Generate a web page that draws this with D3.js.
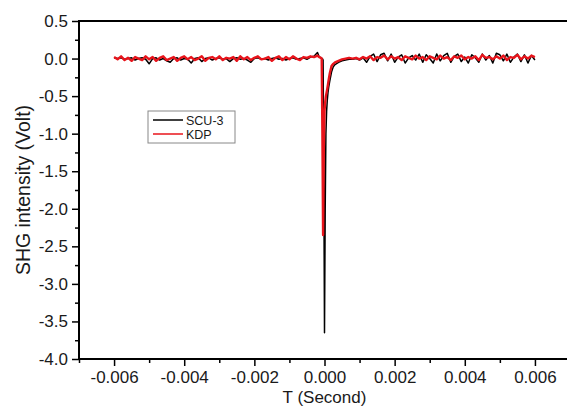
<!DOCTYPE html>
<html>
<head>
<meta charset="utf-8">
<script src="https://cdn.jsdelivr.net/npm/d3@7"></script>
<style>
  body { margin: 0; background: #fff; }
  svg { display: block; font-family: "Liberation Sans", Arial, sans-serif; }
</style>
</head>
<body>
<svg width="567" height="407"></svg>
<script>
// time samples (s): coarse baseline, dense around the pulse, coarse baseline
const timesLeft = [
  -0.0060, -0.0059, -0.0058, -0.0057, -0.0056, -0.0055, -0.0054, -0.0053, -0.0052, -0.0051,
  -0.0050, -0.0049, -0.0048, -0.0047, -0.0046, -0.0045, -0.0044, -0.0043, -0.0042, -0.0041,
  -0.0040, -0.0039, -0.0038, -0.0037, -0.0036, -0.0035, -0.0034, -0.0033, -0.0032, -0.0031,
  -0.0030, -0.0029, -0.0028, -0.0027, -0.0026, -0.0025, -0.0024, -0.0023, -0.0022, -0.0021,
  -0.0020, -0.0019, -0.0018, -0.0017, -0.0016, -0.0015, -0.0014, -0.0013, -0.0012, -0.0011,
  -0.0010, -0.0009, -0.0008, -0.0007, -0.0006, -0.0005, -0.0004, -0.0003, -0.0002
];
const timesPulse = [
  -0.00015, -0.0001, -0.00008, -0.00006, -0.00004, -0.00002, 0, 0.00002, 0.00004, 0.00006,
  0.00008, 0.0001, 0.00012, 0.00015, 0.0002, 0.00025, 0.0003, 0.0004, 0.0005, 0.0006, 0.0007
];
const timesRight = [
  0.0008, 0.0009, 0.0010, 0.0011, 0.0012, 0.0013, 0.0014, 0.0015, 0.0016, 0.0017,
  0.0018, 0.0019, 0.0020, 0.0021, 0.0022, 0.0023, 0.0024, 0.0025, 0.0026, 0.0027,
  0.0028, 0.0029, 0.0030, 0.0031, 0.0032, 0.0033, 0.0034, 0.0035, 0.0036, 0.0037,
  0.0038, 0.0039, 0.0040, 0.0041, 0.0042, 0.0043, 0.0044, 0.0045, 0.0046, 0.0047,
  0.0048, 0.0049, 0.0050, 0.0051, 0.0052, 0.0053, 0.0054, 0.0055, 0.0056, 0.0057,
  0.0058, 0.0059, 0.0060
];
const times = timesLeft.concat(timesPulse, timesRight);

// SHG signal (V)
const scu3 = [
  0.01, 0.00, 0.01, -0.01, 0.00, 0.01, -0.02, 0.00, 0.01, -0.01,
  -0.07, 0.00, 0.01, -0.02, 0.00, -0.03, -0.05, 0.00, 0.01, -0.02,
  0.00, -0.01, -0.06, 0.00, 0.01, -0.04, 0.00, 0.01, -0.02, 0.00,
  0.01, -0.01, 0.00, -0.04, 0.00, 0.01, -0.01, 0.00, -0.02, -0.05,
  0.00, 0.01, -0.01, 0.00, -0.02, 0.00, 0.01, -0.01, 0.00, -0.02,
  0.00, 0.01, -0.01, 0.00, 0.01, -0.01, 0.02, 0.03, 0.08,
  // pulse
  0.02, 0.01, 0.00, 0.00, -0.02, -1.5, -3.65, -2.0, -1.0, -0.7,
  -0.55, -0.45, -0.38, -0.3, -0.18, -0.11, -0.08, -0.05, -0.03, -0.02, -0.01,
  // after
  -0.01, 0.00, -0.02, 0.01, -0.05, 0.03, 0.06, -0.04, 0.05, 0.07,
  -0.03, 0.06, -0.05, 0.02, 0.05, -0.06, 0.01, 0.04, -0.02, 0.06,
  -0.05, 0.05, 0.00, -0.06, 0.06, -0.03, 0.04, 0.07, -0.05, 0.03,
  0.06, -0.04, 0.02, -0.06, 0.05, 0.01, -0.05, 0.06, -0.02, 0.04,
  -0.06, 0.07, 0.05, -0.03, 0.06, -0.05, 0.02, 0.06, -0.04, 0.05,
  -0.06, 0.04, -0.02
];
const kdp = [
  0.02, -0.01, 0.03, -0.02, 0.01, -0.03, 0.02, 0.00, -0.02, 0.03,
  -0.01, 0.02, -0.03, 0.01, 0.03, -0.02, 0.00, 0.02, -0.03, 0.01,
  0.03, -0.01, 0.02, -0.02, 0.00, 0.03, -0.03, 0.01, 0.02, -0.01,
  0.03, -0.02, 0.01, 0.00, 0.02, -0.03, 0.03, -0.01, 0.02, -0.02,
  0.01, 0.03, -0.01, 0.00, 0.02, -0.03, 0.01, 0.03, -0.02, 0.02,
  -0.01, 0.03, 0.00, -0.02, 0.02, 0.01, 0.03, 0.02, 0.04,
  // pulse
  0.02, 0.01, 0.00, -1.0, -2.35, -1.2, -0.7, -0.58, -0.5, -0.45,
  -0.4, -0.34, -0.28, -0.2, -0.1, -0.07, -0.05, -0.03, -0.01, 0.00, 0.01,
  // after
  0.00, 0.01, -0.01, 0.02, 0.00, 0.03, -0.02, 0.02, 0.01, 0.04,
  -0.01, 0.03, 0.00, 0.02, -0.02, 0.03, 0.01, -0.01, 0.04, 0.00,
  0.02, -0.02, 0.03, 0.01, -0.01, 0.04, 0.00, 0.02, -0.02, 0.03,
  0.01, 0.04, -0.01, 0.02, 0.00, 0.03, -0.02, 0.05, 0.01, 0.02,
  -0.01, 0.03, 0.00, 0.04, -0.02, 0.02, 0.01, 0.05, -0.01, 0.03,
  0.00, 0.04, 0.02
];

const xTicks = [-0.006, -0.004, -0.002, 0, 0.002, 0.004, 0.006];
const xMinor = [-0.007, -0.005, -0.003, -0.001, 0.001, 0.003, 0.005, 0.007];
const yTicks = [0.5, 0.0, -0.5, -1.0, -1.5, -2.0, -2.5, -3.0, -3.5, -4.0];
const yMinor = [0.25, -0.25, -0.75, -1.25, -1.75, -2.25, -2.75, -3.25, -3.75];

const series = [
  { name: "SCU-3", values: scu3, color: "#000000", width: 1.5 },
  { name: "KDP", values: kdp, color: "#e8141b", width: 2.4 }
];

const svg = d3.select("svg");
const plotLeft = 79, plotRight = 570, plotTop = 21, plotBottom = 359;

const x = d3.scaleLinear().domain([-0.007, 0.007]).range([plotLeft, plotRight]);
const y = d3.scaleLinear().domain([-4.0, 0.5]).range([plotBottom, plotTop]);

// plain hyphen instead of unicode minus, like the original
const fmt = (f) => (d) => d3.format(f)(d).replace("\u2212", "-");

// traces
const line = d3.line()
  .x((d) => x(d[0]))
  .y((d) => y(d[1]));

svg.append("g")
  .selectAll("path")
  .data(series)
  .enter()
  .append("path")
  .attr("d", (s) => line(times.map((t, i) => [t, s.values[i]])))
  .attr("fill", "none")
  .attr("stroke", (s) => s.color)
  .attr("stroke-width", (s) => s.width)
  .attr("stroke-linejoin", "round");

// axes
const xAxis = svg.append("g")
  .attr("transform", `translate(0,${plotBottom})`)
  .call(d3.axisBottom(x).tickValues(xTicks).tickSize(7).tickPadding(5)
    .tickFormat(fmt(".3f")));
const xAxisMinor = svg.append("g")
  .attr("transform", `translate(0,${plotBottom})`)
  .call(d3.axisBottom(x).tickValues(xMinor).tickSize(4).tickFormat(""));

const yAxis = svg.append("g")
  .attr("transform", `translate(${plotLeft},0)`)
  .call(d3.axisLeft(y).tickValues(yTicks).tickSize(7).tickPadding(4)
    .tickFormat(fmt(".1f")));
const yAxisMinor = svg.append("g")
  .attr("transform", `translate(${plotLeft},0)`)
  .call(d3.axisLeft(y).tickValues(yMinor).tickSize(4).tickFormat(""));

[xAxis, xAxisMinor, yAxis, yAxisMinor].forEach((g) => {
  g.select(".domain").remove();
  g.selectAll("line").attr("stroke", "#000").attr("stroke-width", 1.5);
  g.selectAll("text").attr("fill", "#1a1a1a").style("font-size", "17px");
});

// frame
svg.append("g")
  .selectAll("line")
  .data([
    [plotLeft, plotTop, plotRight, plotTop],
    [plotLeft, plotBottom, plotRight, plotBottom],
    [plotLeft, plotTop, plotLeft, plotBottom],
    [plotRight, plotTop, plotRight, plotBottom]
  ])
  .enter()
  .append("line")
  .attr("x1", (d) => d[0])
  .attr("y1", (d) => d[1])
  .attr("x2", (d) => d[2])
  .attr("y2", (d) => d[3])
  .attr("stroke", "#000")
  .attr("stroke-width", 2)
  .attr("stroke-linecap", "square");

// axis titles
svg.append("text")
  .attr("x", x(0))
  .attr("y", 403)
  .attr("text-anchor", "middle")
  .attr("fill", "#1a1a1a")
  .style("font-size", "17px")
  .text("T (Second)");

svg.append("text")
  .attr("transform", `translate(30,${(plotTop + plotBottom) / 2}) rotate(-90)`)
  .attr("text-anchor", "middle")
  .attr("fill", "#1a1a1a")
  .style("font-size", "19.5px")
  .text("SHG intensity (Volt)");

// legend
const legend = svg.append("g").attr("transform", "translate(148,111)");
legend.append("rect")
  .attr("width", 87)
  .attr("height", 32)
  .attr("fill", "#fff")
  .attr("stroke", "#888")
  .attr("stroke-width", 1);

const item = legend.selectAll("g.item")
  .data(series)
  .enter()
  .append("g")
  .attr("class", "item")
  .attr("transform", (d, i) => `translate(0,${9 + i * 14})`);

item.append("line")
  .attr("x1", 5)
  .attr("x2", 35)
  .attr("stroke", (d) => d.color)
  .attr("stroke-width", 1.5);

item.append("text")
  .attr("x", 38)
  .attr("dy", "0.36em")
  .attr("fill", "#1a1a1a")
  .style("font-size", "12.5px")
  .text((d) => d.name);
</script>
</body>
</html>
